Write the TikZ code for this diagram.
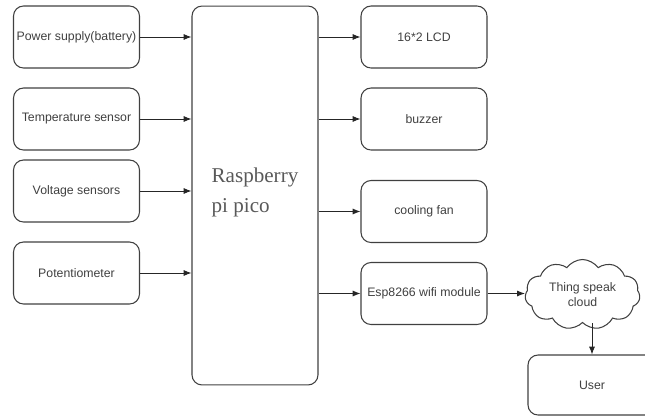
\documentclass[tikz,border=0pt]{standalone}
\usepackage{fontspec}
\setmainfont{Liberation Sans}
\newfontfamily\picofont{Liberation Serif}
\usetikzlibrary{arrows.meta,positioning,shapes.symbols}

\begin{document}
\begin{tikzpicture}[x=0.02cm,y=-0.02cm,font=\fontsize{7}{8.5}\selectfont,
		blk/.style={draw=black!75,line width=0.6pt,rounded corners=0.2cm,text=black!75,
			minimum width=2.52cm,minimum height=1.24cm,align=center,inner sep=1pt},
		arr/.style={-{Latex[length=4.5pt,width=3.5pt]},line width=0.55pt,draw=black!85}]
		\useasboundingbox (0,0) rectangle (645,416);
		\node[blk] (pwr) at (76.5,37) {Power supply(battery)};
		\node[blk] (temp) at (76.5,119) {Temperature sensor};
		\node[blk] (volt) at (76.5,191) {Voltage sensors};
		\node[blk] (pot) at (76.5,273) {Potentiometer};
		\node[blk,minimum height=7.58cm,text=black!65,font=\picofont\fontsize{12}{17}\selectfont,align=left] (pico) at (255,195.5) {Raspberry\\ pi pico\\[-11pt]};
		\node[blk] (lcd) at (424,37) {16*2 LCD};
		\node[blk] (buz) at (424,119) {buzzer};
		\node[blk] (fan) at (424,211.5) {cooling fan};
		\node[blk] (esp) at (424,293.5) {Esp8266 wifi module};
		\node[cloud,cloud puffs=11,cloud puff arc=110,aspect=1.7,draw=black!75,line width=0.6pt,text=black!75,
			minimum width=2.3cm,minimum height=1.4cm,align=center,inner sep=-2pt] (cloud) at (582.5,294.5) {Thing speak\\ cloud};
		\node[blk,minimum width=2.56cm,minimum height=1.2cm] (user) at (592,385) {User};
		\draw[arr] (pwr.east) -- (pwr.east -| pico.west);
		\draw[arr] (temp.east) -- (temp.east -| pico.west);
		\draw[arr] (volt.east) -- (volt.east -| pico.west);
		\draw[arr] (pot.east) -- (pot.east -| pico.west);
		\draw[arr] (lcd.west -| pico.east) -- (lcd.west);
		\draw[arr] (buz.west -| pico.east) -- (buz.west);
		\draw[arr] (fan.west -| pico.east) -- (fan.west);
		\draw[arr] (esp.west -| pico.east) -- (esp.west);
		\draw[arr] (esp.east) -- (esp.east -| cloud.west);
		\draw[arr] (user.north |- cloud.south) -- (user.north);
	\end{tikzpicture}
\end{document}
